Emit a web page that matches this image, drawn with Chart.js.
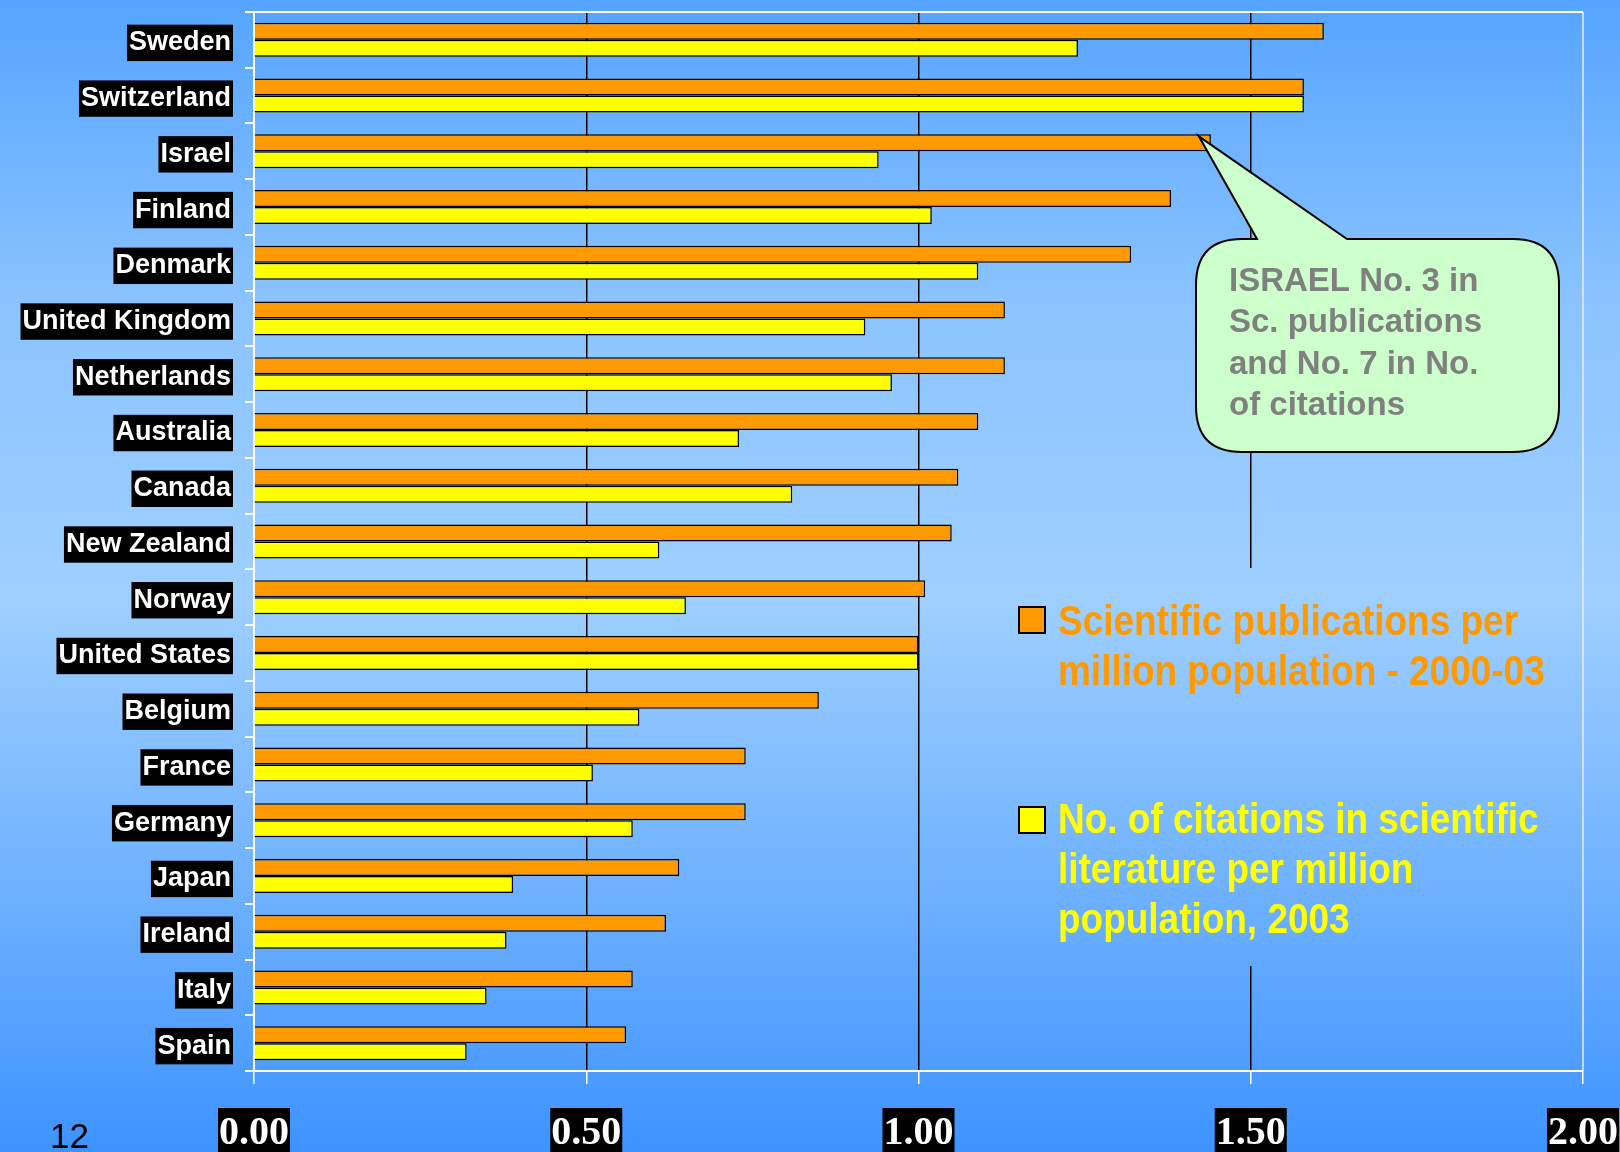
<!DOCTYPE html>
<html>
<head>
<meta charset="utf-8">
<script src="https://cdn.jsdelivr.net/npm/chart.js@4.4.1/dist/chart.umd.min.js"></script>
<style>
  html, body { margin: 0; padding: 0; overflow: hidden; background: #5aa6ff; }
  canvas { display: block; }
</style>
</head>
<body>
<canvas id="chart" width="1620" height="1172"></canvas>
<script>
// Countries, top to bottom
const countries = ['Sweden', 'Switzerland', 'Israel', 'Finland', 'Denmark', 'United Kingdom',
  'Netherlands', 'Australia', 'Canada', 'New Zealand', 'Norway', 'United States', 'Belgium',
  'France', 'Germany', 'Japan', 'Ireland', 'Italy', 'Spain'];

// Scientific publications per million population, 2000-03 (USA = 1.00)
const publications = [1.61, 1.58, 1.44, 1.38, 1.32, 1.13, 1.13, 1.09, 1.06, 1.05, 1.01, 1.00,
  0.85, 0.74, 0.74, 0.64, 0.62, 0.57, 0.56];

// Citations in scientific literature per million population, 2003 (USA = 1.00)
const citations = [1.24, 1.58, 0.94, 1.02, 1.09, 0.92, 0.96, 0.73, 0.81, 0.61, 0.65, 1.00,
  0.58, 0.51, 0.57, 0.39, 0.38, 0.35, 0.32];

const xTickLabels = ['0.00', '0.50', '1.00', '1.50', '2.00'];

const publicationsLegend = ['Scientific publications per', 'million population - 2000-03'];
const citationsLegend = ['No. of citations in scientific', 'literature per million', 'population, 2003'];
const calloutLines = ['ISRAEL No. 3 in', 'Sc. publications', 'and No. 7 in No.', 'of citations'];
const slideNumber = '12';

const ORANGE = '#ff9900';
const YELLOW = '#ffff00';
const PAGE_H = 1152;

function pageGradient(ctx) {
  const g = ctx.createLinearGradient(0, 0, 0, PAGE_H);
  g.addColorStop(0, '#55a4ff');
  g.addColorStop(0.27, '#8cc4ff');
  g.addColorStop(0.52, '#9ecfff');
  g.addColorStop(0.78, '#6db0ff');
  g.addColorStop(1, '#3d93ff');
  return g;
}

function condensedText(ctx, text, x, y, sx) {
  ctx.save();
  ctx.translate(x, y);
  ctx.scale(sx, 1);
  ctx.fillText(text, 0, 0);
  ctx.restore();
}

// Page background
const backgroundPlugin = {
  id: 'pageBackground',
  beforeDraw(chart) {
    const ctx = chart.ctx;
    ctx.save();
    ctx.fillStyle = pageGradient(ctx);
    ctx.fillRect(0, 0, chart.width, chart.height);
    ctx.restore();
  }
};

// White frame on the top and right side of the plot
const framePlugin = {
  id: 'plotFrame',
  beforeDatasetsDraw(chart) {
    const { ctx, chartArea: a } = chart;
    ctx.save();
    ctx.strokeStyle = '#ffffff';
    ctx.lineWidth = 2;
    ctx.beginPath();
    ctx.moveTo(a.left - 8, a.top);
    ctx.lineTo(a.right, a.top);
    ctx.stroke();
    ctx.strokeStyle = '#e8eef6';
    ctx.lineWidth = 1.5;
    ctx.beginPath();
    ctx.moveTo(a.right, a.top);
    ctx.lineTo(a.right, a.bottom);
    ctx.stroke();
    ctx.restore();
  }
};

// Legend block, callout and slide number
const overlayPlugin = {
  id: 'overlay',
  afterDraw(chart) {
    const ctx = chart.ctx;
    ctx.save();

    // legend block sits on the page background
    ctx.fillStyle = pageGradient(ctx);
    ctx.fillRect(1010, 568, 565, 398);

    const drawEntry = (color, lines, markerY, firstBaseline) => {
      ctx.fillStyle = color;
      ctx.fillRect(1019, markerY, 26, 26);
      ctx.strokeStyle = '#000';
      ctx.lineWidth = 2;
      ctx.strokeRect(1019, markerY, 26, 26);
      ctx.font = 'bold 42px "Liberation Sans", Arial, sans-serif';
      ctx.textBaseline = 'alphabetic';
      ctx.textAlign = 'left';
      lines.forEach((t, i) => condensedText(ctx, t, 1058, firstBaseline + i * 50, 0.88));
    };
    drawEntry(ORANGE, publicationsLegend, 607, 635);
    drawEntry(YELLOW, citationsLegend, 807, 833);

    // callout pointing at the Israel publications bar
    const bar = chart.getDatasetMeta(0).data[countries.indexOf('Israel')];
    const tipX = bar.x - 12;
    const tipY = bar.y - bar.height / 2 + 2;
    const L = 1196, T = 239, R = 1559, B = 452, r = 46;
    ctx.beginPath();
    ctx.moveTo(1257, T);
    ctx.lineTo(tipX, tipY);
    ctx.lineTo(1347, T);
    ctx.lineTo(R - r, T);
    ctx.quadraticCurveTo(R, T, R, T + r);
    ctx.lineTo(R, B - r);
    ctx.quadraticCurveTo(R, B, R - r, B);
    ctx.lineTo(L + r, B);
    ctx.quadraticCurveTo(L, B, L, B - r);
    ctx.lineTo(L, T + r);
    ctx.quadraticCurveTo(L, T, L + r, T);
    ctx.closePath();
    ctx.fillStyle = '#ccffcc';
    ctx.fill();
    ctx.strokeStyle = '#000';
    ctx.lineWidth = 2;
    ctx.stroke();

    ctx.fillStyle = '#808080';
    ctx.font = 'bold 33px "Liberation Sans", Arial, sans-serif';
    ctx.textAlign = 'left';
    ctx.textBaseline = 'alphabetic';
    calloutLines.forEach((t, i) => ctx.fillText(t, 1229, 291 + i * 41.3));

    // slide number
    ctx.fillStyle = '#000';
    ctx.font = '35px "Liberation Sans", Arial, sans-serif';
    ctx.fillText(slideNumber, 50, 1148);

    ctx.restore();
  }
};

const CHART_LEFT = 254;
const CHART_BOTTOM = 1071;
const CANVAS_H = 1172;

new Chart(document.getElementById('chart'), {
  type: 'bar',
  data: {
    labels: countries,
    datasets: [
      {
        label: publicationsLegend.join(' '),
        data: publications,
        backgroundColor: ORANGE,
        borderColor: '#000',
        borderWidth: 1.5,
        categoryPercentage: 0.61,
        barPercentage: 1.0
      },
      {
        label: citationsLegend.join(' '),
        data: citations,
        backgroundColor: YELLOW,
        borderColor: '#000',
        borderWidth: 1.5,
        categoryPercentage: 0.61,
        barPercentage: 1.0
      }
    ]
  },
  options: {
    indexAxis: 'y',
    responsive: false,
    devicePixelRatio: 1,
    animation: false,
    layout: { padding: { top: 12, right: 37, bottom: 0, left: 0 } },
    plugins: {
      legend: { display: false },
      tooltip: { enabled: false },
      title: { display: false }
    },
    scales: {
      x: {
        type: 'linear',
        position: 'bottom',
        min: 0,
        max: 2,
        ticks: {
          stepSize: 0.5,
          autoSkip: false,
          maxRotation: 0,
          padding: 26,
          color: '#ffffff',
          font: { family: '"Liberation Serif", "Times New Roman", serif', size: 40, weight: 'bold', lineHeight: 1.2 },
          showLabelBackdrop: true,
          backdropColor: '#000000',
          backdropPadding: { top: 2, bottom: 2, left: 1, right: 1 },
          callback: (value, index) => xTickLabels[index]
        },
        grid: {
          color: (c) => (c.tick && (c.tick.value === 0 || c.tick.value === 2)) ? 'rgba(0,0,0,0)' : '#000000',
          lineWidth: 1.5,
          tickColor: '#ffffff',
          tickLength: 13,
          drawOnChartArea: true
        },
        border: { display: true, color: '#ffffff', width: 2 },
        afterFit: (scale) => {
          scale.height = CANVAS_H - CHART_BOTTOM;
          scale.paddingLeft = 0;
          scale.paddingRight = 0;
        }
      },
      y: {
        type: 'category',
        offset: true,
        ticks: {
          autoSkip: false,
          padding: 14,
          labelOffset: 3,
          color: '#ffffff',
          font: { family: '"Liberation Sans", Arial, sans-serif', size: 27, weight: 'bold', lineHeight: 1.2 },
          showLabelBackdrop: true,
          backdropColor: '#000000',
          backdropPadding: { top: 2, bottom: 2, left: 2, right: 2 }
        },
        grid: {
          offset: true,
          drawOnChartArea: false,
          tickColor: '#ffffff',
          tickLength: 9,
          lineWidth: 2
        },
        border: { display: true, color: '#ffffff', width: 2 },
        afterFit: (scale) => {
          scale.width = CHART_LEFT;
          scale.paddingTop = 0;
          scale.paddingBottom = 0;
        }
      }
    }
  },
  plugins: [backgroundPlugin, framePlugin, overlayPlugin]
});
</script>
</body>
</html>
